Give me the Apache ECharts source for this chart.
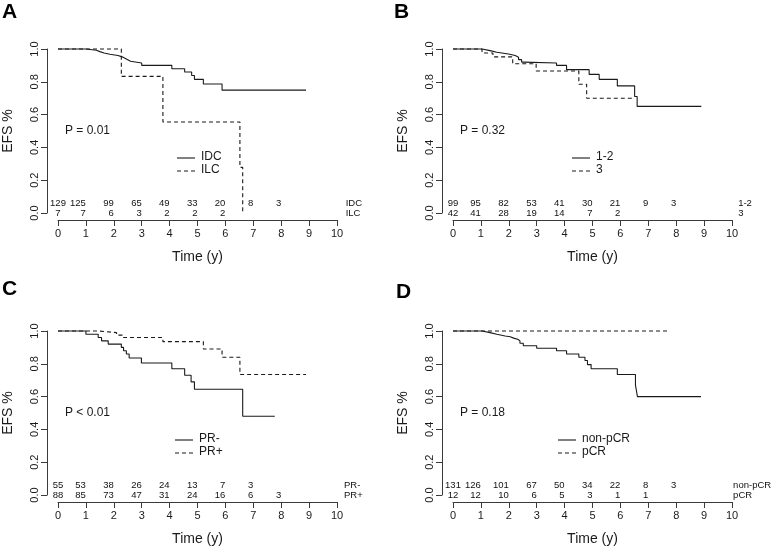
<!DOCTYPE html>
<html><head><meta charset="utf-8">
<script src="https://cdn.jsdelivr.net/npm/echarts/dist/echarts.min.js"></script>
<style>html,body{margin:0;padding:0;background:#fff}#c{width:778px;height:549px}</style>
</head><body><div id="c"></div>
<script>
// ---- data ----
const riskTimes = [0, 1, 2, 3, 4, 5, 6, 7, 8];

// Panel A
const idcCurve = [[0,1],[1.0,0.992],[1.38,0.984],[1.5,0.976],[1.65,0.968],[1.86,0.96],[2.15,0.952],[2.3,0.944],[2.4,0.935],[2.5,0.925],[2.6,0.915],[3.0,0.90],[4.08,0.88],[4.54,0.86],[4.79,0.838],[4.89,0.815],[5.21,0.787],[5.88,0.749],[8.89,0.749]];
const ilcCurve = [[0,1],[2.27,0.833],[3.76,0.555],[6.52,0.278],[6.62,0]];
const idcRisk = [129,125,99,65,49,33,20,8,3];
const ilcRisk = [7,7,6,3,2,2,2];

// Panel B
const g12Curve = [[0,1],[1.04,0.99],[1.33,0.98],[1.57,0.97],[1.99,0.96],[2.23,0.95],[2.35,0.935],[2.46,0.92],[2.55,0.915],[3.71,0.90],[4.07,0.874],[4.88,0.845],[5.24,0.815],[5.89,0.775],[6.51,0.71],[6.6,0.65],[8.9,0.65]];
const g3Curve = [[0,1],[1.04,0.976],[1.43,0.952],[2.14,0.91],[2.98,0.866],[4.51,0.785],[4.79,0.70],[6.5,0.70]];
const g12Risk = [99,95,82,53,41,30,21,9,3];
const g3Risk = [42,41,28,19,14,7,2];

// Panel C
const prNegCurve = [[0,1],[1.0,0.98],[1.44,0.96],[1.56,0.94],[1.8,0.92],[2.27,0.90],[2.35,0.88],[2.45,0.86],[2.55,0.835],[2.99,0.805],[4.08,0.77],[4.54,0.73],[4.77,0.69],[4.89,0.645],[6.62,0.48],[7.77,0.48]];
const prPosCurve = [[0,1],[1.44,0.99],[2.1,0.975],[2.35,0.96],[3.76,0.935],[5.21,0.89],[5.88,0.84],[6.52,0.735],[8.89,0.735]];
const prNegRisk = [55,53,38,26,24,13,7,3];
const prPosRisk = [88,85,73,47,31,24,16,6,3];

// Panel D
const nonPcrCurve = [[0,1],[1.04,0.99],[1.33,0.98],[1.57,0.97],[1.87,0.965],[2.05,0.955],[2.2,0.95],[2.32,0.94],[2.4,0.925],[2.52,0.91],[3.0,0.895],[3.71,0.88],[4.07,0.86],[4.51,0.84],[4.73,0.82],[4.82,0.795],[4.95,0.77],[5.89,0.735],[6.54,0.67],[6.61,0.60],[8.89,0.60]];
const pcrCurve = [[0,1],[7.68,1]];
const nonPcrRisk = [131,126,101,67,50,34,22,8,3];
const pcrRisk = [12,12,10,6,5,3,1,1];

const xTickLabels = ['0','1','2','3','4','5','6','7','8','9','10'];
const yTickLabels = ['0.0','0.2','0.4','0.6','0.8','1.0'];

// ---- layout ----
const FONT = 'Liberation Sans, Arial, Helvetica, sans-serif';
const INK = '#1a1a1a';
const AX = '#3a3a3a';

const panels = [
  {letter:'A', lx:2, ly:2, left:58, top:49, names:['IDC','ILC'], curves:[idcCurve, ilcCurve], risk:[idcRisk, ilcRisk],
   p:'P = 0.01', px:65, py:125, legL:177, legY:158, nameT:10.31},
  {letter:'B', lx:394, ly:2, left:453, top:49, names:['1-2','3'], curves:[g12Curve, g3Curve], risk:[g12Risk, g3Risk],
   p:'P = 0.32', px:460, py:125, legL:572, legY:158, nameT:10.22},
  {letter:'C', lx:2, ly:279, left:58, top:331, names:['PR-','PR+'], curves:[prNegCurve, prPosCurve], risk:[prNegRisk, prPosRisk],
   p:'P < 0.01', px:65, py:407, legL:175, legY:440, nameT:10.25},
  {letter:'D', lx:396, ly:282, left:453, top:331, names:['non-pCR','pCR'], curves:[nonPcrCurve, pcrCurve], risk:[nonPcrRisk, pcrRisk],
   p:'P = 0.18', px:460, py:407, legL:558, legY:440, nameT:10.04}
];

const DASH = [4, 3];
const grid = [], xAxis = [], yAxis = [], series = [], graphic = [];
panels.forEach((p, i) => {
  grid.push({left:p.left, top:p.top, width:279, height:164, containLabel:false, outerBoundsMode:'none'});
  xAxis.push({
    gridIndex:i, type:'value', min:0, max:10, interval:1, offset:7,
    name:'Time (y)', nameLocation:'middle', nameGap:30,
    nameTextStyle:{fontFamily:FONT, fontSize:14, color:INK},
    axisLine:{show:true, onZero:false, lineStyle:{color:AX, width:1}},
    axisTick:{show:true, length:6, lineStyle:{color:AX}},
    axisLabel:{fontFamily:FONT, fontSize:11, color:INK, margin:8, formatter:(v)=>xTickLabels[Math.round(v)]},
    splitLine:{show:false}
  });
  yAxis.push({
    gridIndex:i, type:'value', min:0, max:1, interval:0.2, offset:11,
    name:'EFS %', nameLocation:'middle', nameGap:32, nameRotate:90,
    nameTextStyle:{fontFamily:FONT, fontSize:14, color:INK},
    axisLine:{show:true, onZero:false, lineStyle:{color:AX, width:1}},
    axisTick:{show:true, length:6, lineStyle:{color:AX}},
    axisLabel:{fontFamily:FONT, fontSize:11, color:INK, margin:7, rotate:90,
      formatter:(v)=>yTickLabels[Math.round(v*5)]},
    splitLine:{show:false}
  });
  p.curves.forEach((c, k) => {
    series.push({
      type:'line', name:p.names[k], xAxisIndex:i, yAxisIndex:i, data:c, step:'end',
      symbol:'none', showSymbol:false, clip:false, silent:true,
      lineStyle:{color:INK, width:1.1, type: k === 1 ? DASH : 'solid'},
      itemStyle:{color:INK}, emphasis:{disabled:true}
    });
  });
  // number at risk table
  const rows = [0.056, 0];
  p.risk.forEach((arr, r) => {
    const data = arr.map((n, j) => ({
      value:[riskTimes[j], rows[r]],
      label:{formatter:String(n), align: j === 0 ? 'center' : 'right'}
    }));
    data.push({value:[p.nameT, rows[r]], label:{formatter:p.names[r], align:'left'}});
    series.push({
      type:'scatter', xAxisIndex:i, yAxisIndex:i, symbolSize:0, clip:false, silent:true,
      itemStyle:{opacity:1, color:INK}, emphasis:{disabled:true},
      data:data,
      label:{show:true, position:'inside', fontFamily:FONT, fontSize:9.5, color:'#111', opacity:1,
        verticalAlign:'middle', textBorderWidth:0}
    });
  });
  // legend (drawn as line samples + text)
  p.names.forEach((nm, k) => {
    const y = p.legY + k * 13;
    graphic.push({type:'line', shape:{x1:p.legL, y1:y, x2:p.legL + 18, y2:y},
      style:{stroke:INK, lineWidth:1.1, lineDash: k === 1 ? DASH : null}, silent:true});
    graphic.push({type:'text', left:p.legL + 24, top:y - 7,
      style:{text:nm, font:'12px ' + FONT, fill:INK}, silent:true});
  });
  graphic.push({type:'text', left:p.lx, top:p.ly, style:{text:p.letter, font:'bold 21px ' + FONT, fill:'#000'}});
  graphic.push({type:'text', left:p.px, top:p.py, style:{text:p.p, font:'12px ' + FONT, fill:INK}});
});

const chart = echarts.init(document.getElementById('c'), null, {renderer:'canvas'});
chart.setOption({
  backgroundColor:'#fff', animation:false,
  grid, xAxis, yAxis, series, graphic,
  tooltip:{show:false}
});
</script>
</body></html>
